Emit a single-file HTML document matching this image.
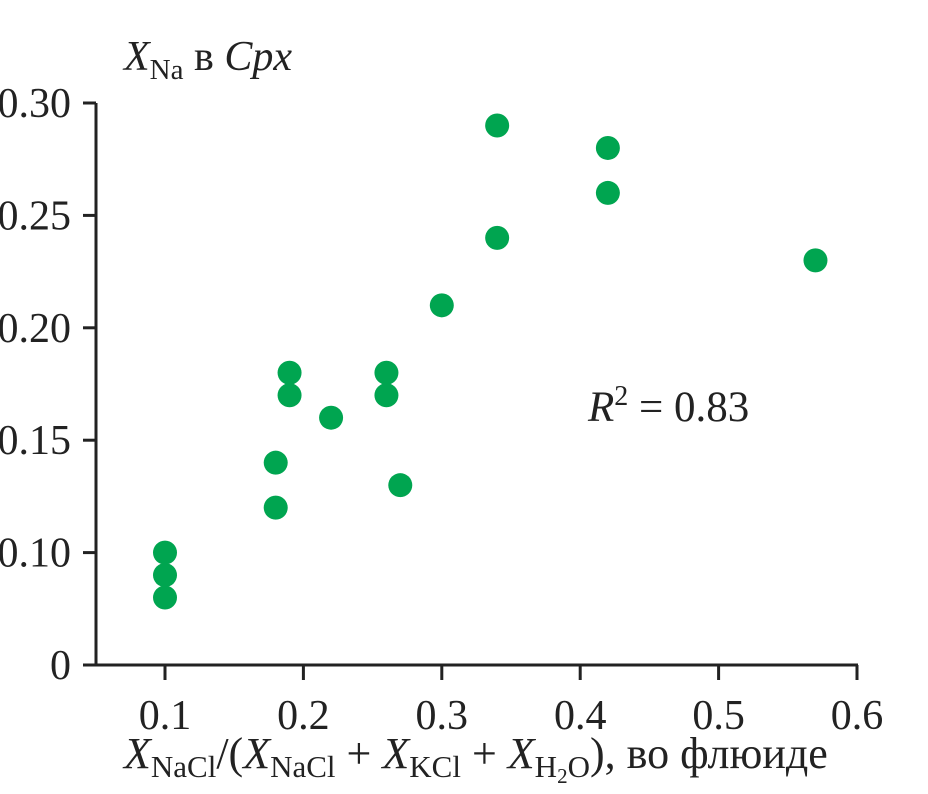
<!DOCTYPE html>
<html><head><meta charset="utf-8"><style>
body{margin:0;background:#fff;}
svg{display:block;font-family:"Liberation Serif",serif;}
</style></head><body>
<svg id="chart" width="928" height="794" viewBox="0 0 928 794">
<g id="axes"></g>
<g id="points"></g>
<text x="124" y="70" font-size="42" fill="#222"><tspan font-style="italic">X</tspan><tspan font-size="29" dy="9">Na</tspan><tspan dy="-9"> в </tspan><tspan font-style="italic">Cpx</tspan></text>
<text x="588" y="421" font-size="43" fill="#222"><tspan font-style="italic">R</tspan><tspan font-size="28" dy="-16">2</tspan><tspan dy="16"> = 0.83</tspan></text>
<text x="124" y="768" font-size="44" fill="#222"><tspan font-style="italic">X</tspan><tspan font-size="31" dy="9">NaCl</tspan><tspan dy="-9">/(</tspan><tspan font-style="italic">X</tspan><tspan font-size="31" dy="9">NaCl</tspan><tspan dy="-9"> + </tspan><tspan font-style="italic">X</tspan><tspan font-size="31" dy="9">KCl</tspan><tspan dy="-9"> + </tspan><tspan font-style="italic">X</tspan><tspan font-size="31" dy="9">H</tspan><tspan font-size="21" dy="6">2</tspan><tspan font-size="31" dy="-6">O</tspan><tspan dy="-9">), во флюиде</tspan></text>
</svg>
<script>
const xVals=[0.1,0.1,0.1,0.18,0.18,0.19,0.19,0.22,0.26,0.26,0.27,0.30,0.34,0.34,0.42,0.42,0.57];
const yVals=[0.10,0.09,0.08,0.14,0.12,0.18,0.17,0.16,0.18,0.17,0.13,0.21,0.29,0.24,0.28,0.26,0.23];
const xTicks=[0.1,0.2,0.3,0.4,0.5,0.6];
const xTickLabels=["0.1","0.2","0.3","0.4","0.5","0.6"];
const yTicks=[0.30,0.25,0.20,0.15,0.10];
const yTickLabels=["0.30","0.25","0.20","0.15","0.10"];
const NS="http://www.w3.org/2000/svg";
function X(v){return 165+(v-0.1)*1384;}
function Y(v){return 103+(0.30-v)/0.05*112.4;}
const axes=document.getElementById('axes'),pts=document.getElementById('points');
function mk(tag,attrs,parent){const e=document.createElementNS(NS,tag);for(const k in attrs)e.setAttribute(k,attrs[k]);parent.appendChild(e);return e;}
let l=mk('line',{x1:96,y1:103,x2:96,y2:665,stroke:'#222','stroke-width':3},axes);


l=mk('line',{x1:83,y1:665,x2:858,y2:665,stroke:'#222','stroke-width':3},axes);


yTicks.forEach((v,i)=>{
 const t=mk('line',{x1:83,y1:Y(v),x2:96,y2:Y(v),stroke:'#222','stroke-width':3},axes);
 
 
 const tx=mk('text',{x:71,y:Y(v)+14,'font-size':42,'text-anchor':'end',fill:'#222'},axes);
 tx.textContent=yTickLabels[i];
 
 
});
const z=mk('text',{x:71,y:679,'font-size':42,'text-anchor':'end',fill:'#222'},axes);
z.textContent="0";


xTicks.forEach((v,i)=>{
 const t=mk('line',{x1:X(v),y1:665,x2:X(v),y2:680,stroke:'#222','stroke-width':3},axes);
 
 
 const tx=mk('text',{x:X(v),y:729,'font-size':42,'text-anchor':'middle',fill:'#222'},axes);
 tx.textContent=xTickLabels[i];
 
 
});
xVals.forEach((v,i)=>{
 const c=mk('circle',{cx:X(v),cy:Y(yVals[i]),r:12,fill:'#00a550'},pts);
 
 
});
</script>
</body></html>
